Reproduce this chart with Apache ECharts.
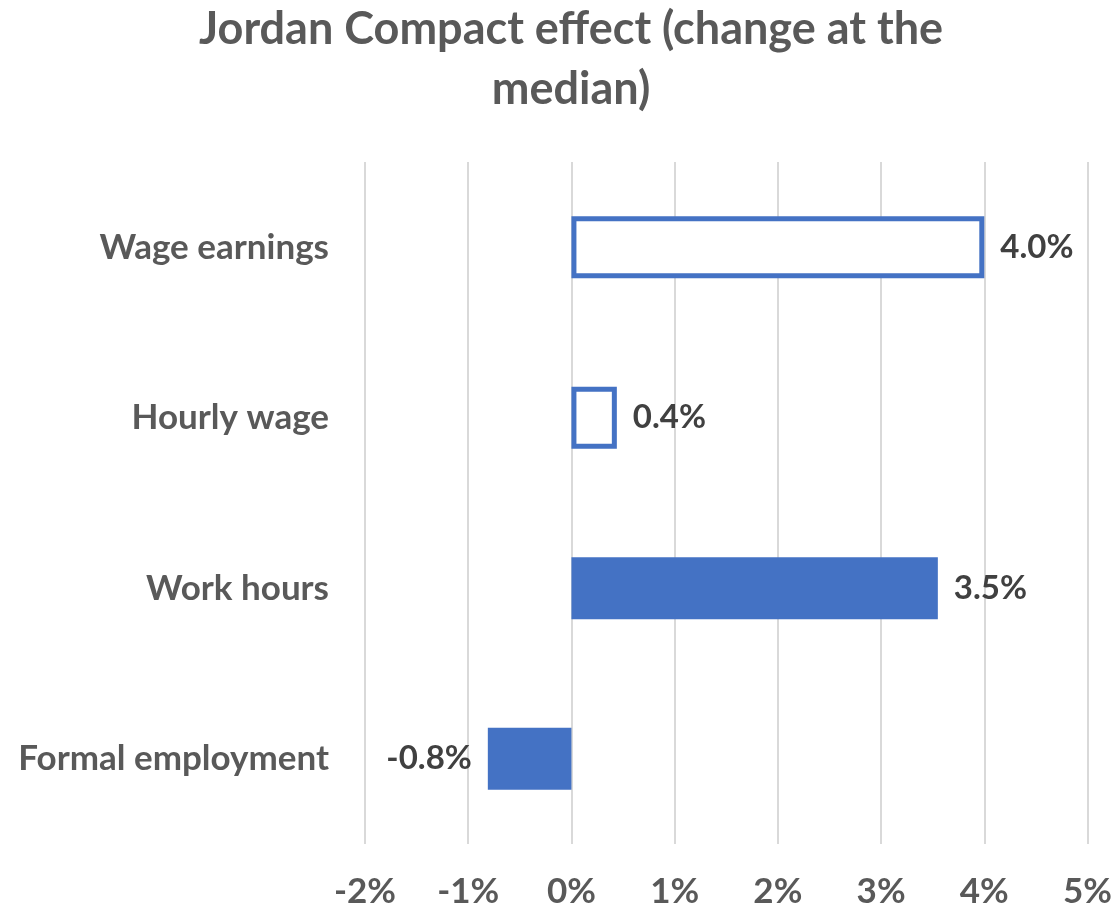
<!DOCTYPE html>
<html>
<head>
<meta charset="utf-8">
<script src="https://cdn.jsdelivr.net/npm/echarts@6/dist/echarts.min.js"></script>
<style>
  html, body { margin: 0; padding: 0; background: #fff; }
  #chart { width: 1115px; height: 909px; }
</style>
</head>
<body>
<div id="chart"></div>
<script>
// Outcomes, top to bottom
const categories = ['Wage earnings', 'Hourly wage', 'Work hours', 'Formal employment'];
// Change at the median, in percent
const values = [4.0, 0.44, 3.55, -0.81];
// Outlined (unfilled) bars for the wage measures
const outlined = [true, true, false, false];
// Axis ticks, in percent
const tickMin = -2;
const tickMax = 5;
const tickStep = 1;

const BLUE = '#4472C4';
const FONT = 'Lato, "Open Sans", sans-serif';

const seriesData = values.map((v, i) => ({
  value: v,
  itemStyle: outlined[i]
    ? { color: '#ffffff', borderColor: BLUE, borderWidth: 5 }
    : { color: BLUE },
  label: { position: v < 0 ? 'left' : 'right' }
}));

const chart = echarts.init(document.getElementById('chart'), null, { renderer: 'canvas' });
chart.setOption({
  animation: false,
  backgroundColor: '#ffffff',
  title: {
    text: 'Jordan Compact effect (change at the\nmedian)',
    left: 571,
    textAlign: 'center',
    top: -1,
    padding: 0,
    textStyle: {
      fontFamily: FONT,
      fontWeight: 'bold',
      fontSize: 45,
      lineHeight: 60,
      color: '#595959'
    }
  },
  grid: { left: 365, right: 27, top: 162, bottom: 63, containLabel: false },
  xAxis: {
    type: 'value',
    min: tickMin,
    max: tickMax,
    interval: tickStep,
    axisLine: { show: false },
    axisTick: { show: false },
    splitLine: { show: true, lineStyle: { color: '#d9d9d9', width: 2 } },
    axisLabel: {
      margin: 30,
      formatter: v => v + '%',
      fontFamily: FONT,
      fontWeight: 'bold',
      fontSize: 35,
      color: '#595959'
    }
  },
  yAxis: {
    type: 'category',
    data: categories,
    inverse: true,
    axisLine: { show: false },
    axisTick: { show: false },
    splitLine: { show: false },
    axisLabel: {
      margin: 36,
      fontFamily: FONT,
      fontWeight: 'bold',
      fontSize: 35,
      color: '#595959'
    }
  },
  series: [{
    type: 'bar',
    data: seriesData,
    barWidth: 62,
    label: {
      show: true,
      distance: 16,
      formatter: p => p.value.toFixed(1) + '%',
      fontFamily: FONT,
      fontWeight: 'bold',
      fontSize: 33,
      color: '#404040'
    }
  }]
});
</script>
</body>
</html>
